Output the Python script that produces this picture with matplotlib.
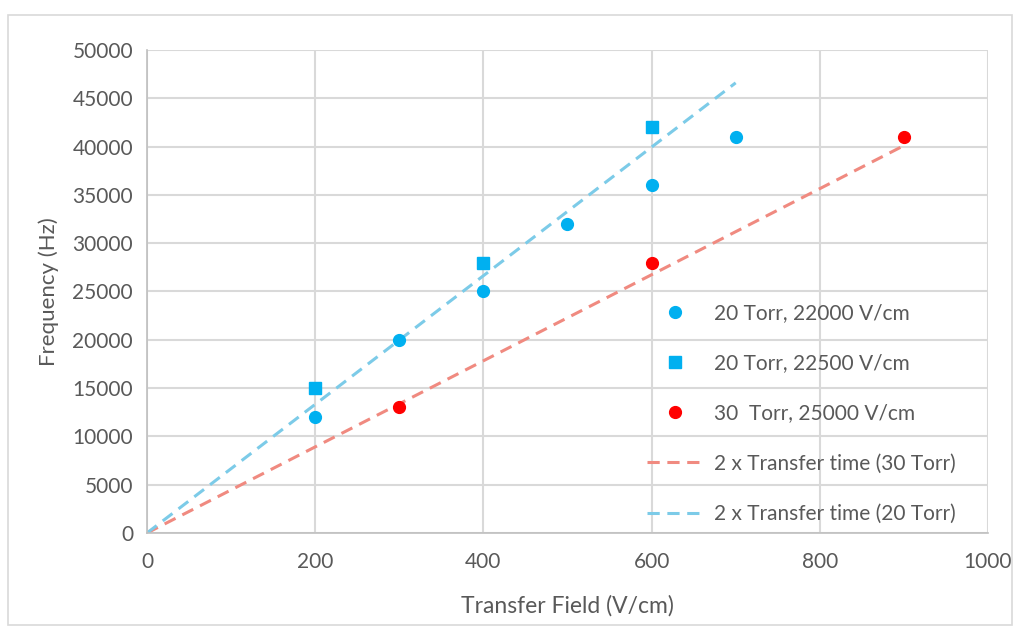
import matplotlib.pyplot as plt
from matplotlib.patches import Rectangle

# datos
x_20a = [200, 300, 400, 500, 600, 700]
y_20a = [12000, 20000, 25000, 32000, 36000, 41000]

x_20b = [200, 400, 600]
y_20b = [15000, 28000, 42000]

x_30 = [300, 600, 900]
y_30 = [13000, 28000, 41000]

# lineas "2 x Transfer time"
x_line30 = [0, 900]
y_line30 = [0, 40100]
x_line20 = [0, 700]
y_line20 = [0, 46600]

plt.rcParams['font.family'] = ['Lato', 'DejaVu Sans']
gris = '#595959'

fig = plt.figure(figsize=(10.22, 6.28), dpi=100)
ax = fig.add_axes([0.1438, 0.1513, 0.8229, 0.7691])

# marco exterior
fig.patches.append(Rectangle((8 / 1022, 3 / 628), 1004 / 1022, 610 / 628,
                             transform=fig.transFigure, fill=False,
                             edgecolor='#D9D9D9', lw=1.2))

ax.plot(x_20a, y_20a, 'o', color='#00B0F0', ms=8.5, label='20 Torr, 22000 V/cm', zorder=3)
ax.plot(x_20b, y_20b, 's', color='#00B0F0', ms=8, label='20 Torr, 22500 V/cm', zorder=3)
ax.plot(x_30, y_30, 'o', color='#FF0000', ms=8.5, label='30  Torr, 25000 V/cm', zorder=3)
ax.plot(x_line30, y_line30, '--', color='#F08A80', lw=2.2, dashes=(4, 2.5),
        label='2 x Transfer time (30 Torr)')
ax.plot(x_line20, y_line20, '--', color='#7CCBE8', lw=2.2, dashes=(4, 2.5),
        label='2 x Transfer time (20 Torr)')

ax.set_xlim(0, 1000)
ax.set_ylim(0, 50000)
ax.set_xticks(range(0, 1001, 200))
ax.set_yticks(range(0, 50001, 5000))
ax.grid(True, color='#D9D9D9', lw=1.5)
ax.set_axisbelow(True)

for s in ['top', 'right']:
    ax.spines[s].set_visible(False)
for s in ['left', 'bottom']:
    ax.spines[s].set_color('#BFBFBF')
    ax.spines[s].set_linewidth(1.2)

ax.tick_params(length=0, labelsize=15, colors=gris)
ax.tick_params(axis='x', pad=14)
ax.tick_params(axis='y', pad=10)
ax.set_xlabel('Transfer Field (V/cm)', fontsize=16.5, color=gris, labelpad=16)
ax.set_ylabel('Frequency (Hz)', fontsize=16, color=gris, labelpad=10)

leg = ax.legend(loc='lower left', bbox_to_anchor=(0.572, -0.02), frameon=False,
                fontsize=15, labelspacing=1.45, handlelength=2.7,
                handletextpad=0.55, labelcolor=gris)

fig.savefig('out.png', dpi=100)
